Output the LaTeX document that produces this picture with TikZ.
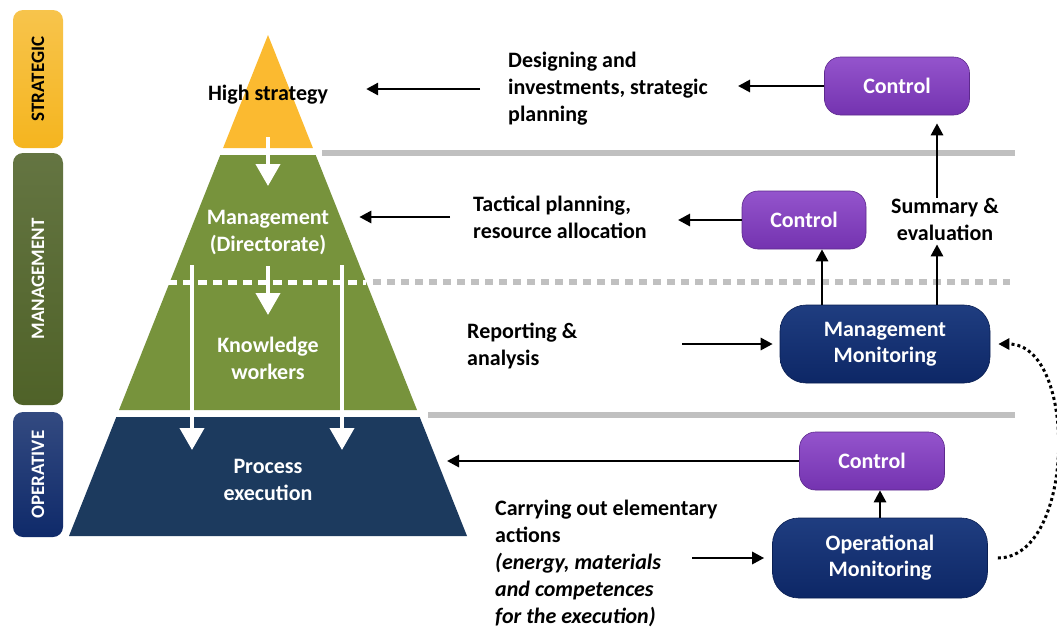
\documentclass[tikz,border=0pt]{standalone}
\usepackage{fontspec}
\setmainfont{Carlito}
\usetikzlibrary{arrows.meta}

\definecolor{stratY}{HTML}{FBBA30}
\definecolor{mgmtG}{HTML}{77933C}
\definecolor{opB}{HTML}{1C3A5E}
\definecolor{sideY}{HTML}{F5B51F}
\definecolor{sideG}{HTML}{4F6228}
\definecolor{sideB}{HTML}{0F2A6A}
\definecolor{ctrlP}{HTML}{7433B0}
\definecolor{ctrlTop}{HTML}{9454CC}
\definecolor{monB}{HTML}{0D2766}
\definecolor{monTop}{HTML}{1F3D80}
\definecolor{sepgray}{HTML}{C0C0C0}

\tikzset{
  lbl/.style={font=\fontsize{22}{27}\selectfont\bfseries, align=left, inner sep=0pt},
  pyrtxt/.style={font=\fontsize{22}{27}\selectfont\bfseries, align=center, text=white, inner sep=0pt},
  arr/.style={line width=2.8pt, -{Triangle[length=12pt,width=12pt]}},
  warr/.style={white, line width=4pt, -{Triangle[length=22pt,width=24pt]}},
  dotarr/.style={line width=3pt, dash pattern=on 3pt off 3pt, -{Triangle[length=11pt,width=11pt]}},
  ctrlbox/.style={rounded corners=16pt, minimum width=145pt, minimum height=58pt,
    top color=ctrlTop, bottom color=ctrlP, draw=ctrlP!80!black, line width=0.6pt,
    text=white, font=\fontsize{22}{26}\selectfont\bfseries},
  monbox/.style={rounded corners=26pt, minimum width=210pt, minimum height=78pt,
    top color=monTop, bottom color=monB, draw=monB!80!black, line width=0.6pt,
    text=white, align=center, font=\fontsize{22}{26}\selectfont\bfseries},
  sidebar/.style={rounded corners=10pt, minimum width=50pt, inner sep=0pt,
    font=\fontsize{19}{19}\selectfont\bfseries},
  sepline/.style={line width=6pt, sepgray},
}

\begin{document}
\begin{tikzpicture}[x=1pt, y=-1pt]
  \useasboundingbox[fill=white] (0,0) rectangle (1057,630);

  % side bars
  \node[sidebar, minimum height=138pt, top color=sideY!80!white, bottom color=sideY] (sideS) at (38,79) {\rotatebox{90}{STRATEGIC}};
  \node[sidebar, minimum height=252pt, top color=sideG!88!white, bottom color=sideG, text=white] (sideM) at (38,279) {\rotatebox{90}{MANAGEMENT}};
  \node[sidebar, minimum height=125pt, top color=sideB!85!white, bottom color=sideB, text=white] (sideO) at (38,474.5) {\rotatebox{90}{OPERATIVE}};

  % pyramid
  \fill[stratY] (268,35) -- (312.9,148) -- (223.1,148) -- cycle;
  \fill[mgmtG] (220.3,155) -- (315.7,155) -- (417,410) -- (119,410) -- cycle;
  \fill[opB] (116.3,417) -- (419.7,417) -- (467,536) -- (69,536) -- cycle;
  \draw[white, line width=5pt, dash pattern=on 9pt off 6pt] (168,282) -- (366,282);

  % separators
  \draw[sepline] (322,153) -- (1015,153);
  \draw[sepline, dash pattern=on 8pt off 6pt] (373,282) -- (1010,282);
  \draw[sepline] (428,415) -- (1015,415);

  % pyramid texts
  \node[lbl, align=center] (high) at (268,95) {High strategy};
  \node[pyrtxt] (mgmt) at (268,233) {Management\\(Directorate)};
  \node[pyrtxt] (know) at (268,358) {Knowledge\\workers};
  \node[pyrtxt] (proc) at (268,480) {Process\\execution};

  % white arrows
  \coordinate (w1a) at (268,137);
  \coordinate (w1b) at (268,186);
  \coordinate (w2a) at (268,266);
  \coordinate (w2b) at (268,315);
  \coordinate (wLa) at (192,265);
  \coordinate (wLb) at (192,450);
  \coordinate (wRa) at (342,265);
  \coordinate (wRb) at (342,450);
  \draw[warr] (w1a) -- (w1b);
  \draw[warr] (w2a) -- (w2b);
  \draw[warr] (wLa) -- (wLb);
  \draw[warr] (wRa) -- (wRb);

  % right hand side
  \node[ctrlbox] (ctrlS) at (897,86) {Control};
  \node[lbl, anchor=west] (design) at (508,89) {Designing and\\investments, strategic\\planning};
  \node[ctrlbox, minimum width=124pt] (ctrlM) at (804,220) {Control};
  \node[lbl, anchor=west] (tact) at (473,217) {Tactical planning,\\resource allocation};
  \node[lbl, align=center] (summ) at (945,219) {Summary \&\\evaluation};
  \node[monbox] (mm) at (885,344) {Management\\Monitoring};
  \node[lbl, anchor=west] (rep) at (467,346) {Reporting \&\\analysis};
  \node[ctrlbox] (ctrlO) at (872,461) {Control};
  \node[monbox, minimum width=215pt, minimum height=80pt] (om) at (880,558) {Operational\\Monitoring};
  \node[lbl, anchor=west] (carry) at (495,563) {Carrying out elementary\\actions\\\textit{(energy, materials}\\\textit{and competences}\\\textit{for the execution)}};

  \coordinate (designR) at (738,86);
  \coordinate (tactR) at (678,220);
  \coordinate (repR) at (682,344);
  \coordinate (procR) at (447,461);
  \coordinate (carryR) at (692,558);

  \draw[arr] (ctrlS.west) -- (designR);
  \draw[arr, shorten <=28pt, shorten >=38pt] (design.west) -- (design.west -| high.east);
  \draw[arr] (ctrlM.west) -- (tactR);
  \draw[arr, shorten <=23pt, shorten >=30pt] (tact.west) -- (tact.west -| mgmt.east);
  \draw[arr, shorten >=8pt] ([xshift=-8pt]summ.north) -- ([xshift=-8pt]summ.north |- ctrlS.south);
  \draw[arr] ([xshift=18pt]ctrlM.south |- mm.north) -- ([xshift=18pt]ctrlM.south);
  \draw[arr, shorten >=4pt] ([xshift=-8pt]summ.south |- mm.north) -- ([xshift=-8pt]summ.south);
  \draw[arr, shorten >=7pt] (repR) -- (mm.west);
  \draw[arr] (ctrlO.west) -- (procR);
  \draw[arr] (om.north) -- (om.north |- ctrlO.south);
  \draw[arr, shorten >=8pt] (carryR) -- (om.west);
  \draw[dotarr, shorten <=10pt, shorten >=8pt] (om.east) to[out=0, in=0, looseness=1.05] (mm.east);
\end{tikzpicture}
\end{document}
